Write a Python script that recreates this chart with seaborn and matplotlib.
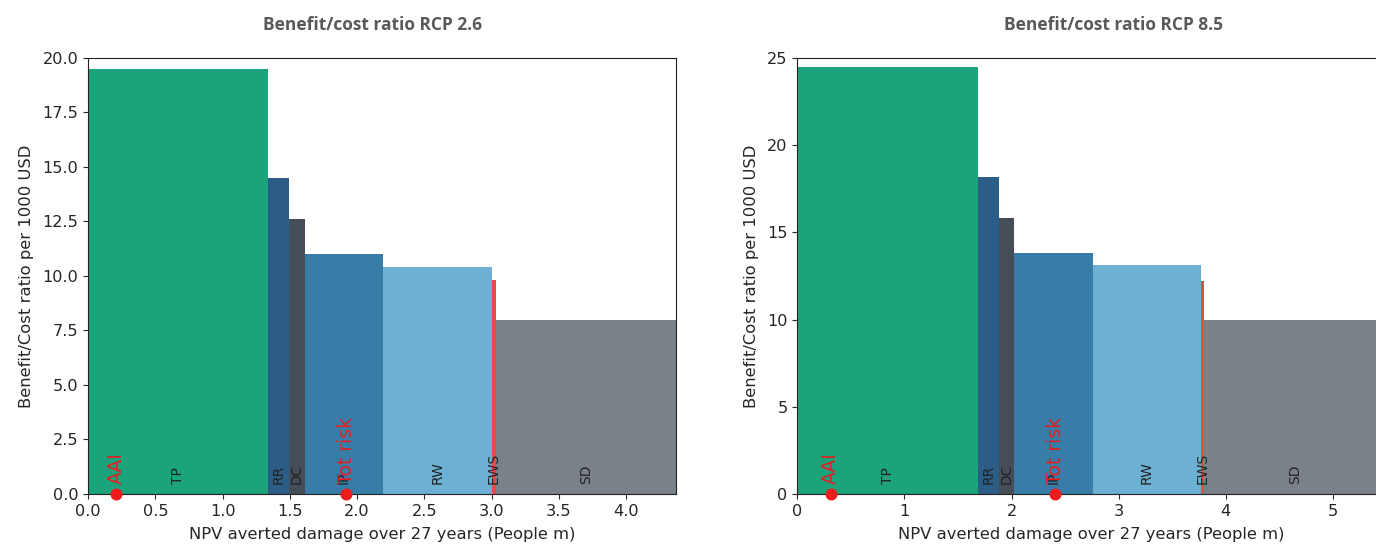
import numpy as np
import pandas as pd
import matplotlib.pyplot as plt
import seaborn as sns

sns.set_style("ticks")
plt.rcParams["font.family"] = "DejaVu Sans"
plt.rcParams["xtick.major.size"] = 3.5
plt.rcParams["ytick.major.size"] = 3.5
plt.rcParams["xtick.labelsize"] = 11.6
plt.rcParams["ytick.labelsize"] = 11.6

# measures in order of decreasing benefit/cost ratio
measures = ["TP", "RR", "DC", "IP", "RW", "EWS", "SD"]
colors = ["#1ba37c", "#2b5d87", "#454e58", "#377da8", "#6cb0d4", "#e64b4b", "#7b8189"]

# RCP 2.6: averted damage per measure (People m) and benefit/cost ratio
averted_26 = [1.34, 0.15, 0.12, 0.58, 0.81, 0.03, 1.34]
ratio_26 = [19.5, 14.5, 12.6, 11.0, 10.4, 9.8, 8.0]
aai_26 = 0.21
tot_risk_26 = 1.92

# RCP 8.5
averted_85 = [1.69, 0.19, 0.14, 0.74, 1.01, 0.03, 1.69]
ratio_85 = [24.5, 18.2, 15.8, 13.8, 13.1, 12.2, 10.0]
aai_85 = 0.31
tot_risk_85 = 2.41

palette = dict(zip(measures, colors))


def plot_ratio(ax, averted, ratio, aai, tot_risk, ymax):
    edges = [0.0] + list(np.cumsum(averted))
    df = pd.DataFrame({
        "measure": measures,
        "mid": [(a + b) / 2 for a, b in zip(edges[:-1], edges[1:])],
        "ratio": ratio,
    })
    # variable width bars: one bin per measure, height = ratio
    sns.histplot(data=df, x="mid", weights="ratio", hue="measure", bins=edges,
                 palette=palette, multiple="layer", alpha=1, linewidth=0,
                 legend=False, ax=ax)
    for name, x in zip(df["measure"], df["mid"]):
        ax.annotate(name, (x, 0), xytext=(0, 7), textcoords="offset points",
                    rotation=90, ha="center", va="bottom", fontsize=10, color="#222222")
    sns.scatterplot(x=[aai, tot_risk], y=[0, 0], color="#ee1c1c", s=75,
                    linewidth=0, clip_on=False, zorder=5, ax=ax)
    for name, x in [("AAI", aai), ("Tot risk", tot_risk)]:
        ax.annotate(name, (x, 0), xytext=(0, 7), textcoords="offset points",
                    rotation=90, ha="center", va="bottom", fontsize=13.5, color="#dd2222")
    ax.set_xlim(0, edges[-1])
    ax.set_ylim(0, ymax)
    ax.set_xlabel("NPV averted damage over 27 years (People m)", fontsize=11.8, labelpad=6)
    ax.set_ylabel("Benefit/Cost ratio per 1000 USD", fontsize=11.8, labelpad=6)
    for s in ax.spines.values():
        s.set_color("#222222")


fig = plt.figure(figsize=(13.76, 5.47), dpi=100)
ax1 = fig.add_axes([0.064, 0.097, 0.4273, 0.797])
ax2 = fig.add_axes([0.5795, 0.097, 0.4273, 0.797])

plot_ratio(ax1, averted_26, ratio_26, aai_26, tot_risk_26, 20)
plot_ratio(ax2, averted_85, ratio_85, aai_85, tot_risk_85, 25)

fig.text(0.2705, 0.955, "Benefit/cost ratio RCP 2.6", ha="center", va="center",
         fontsize=12.5, fontweight="bold", color="#595959", family="Open Sans")
fig.text(0.809, 0.955, "Benefit/cost ratio RCP 8.5", ha="center", va="center",
         fontsize=12.5, fontweight="bold", color="#595959", family="Open Sans")

fig.savefig("out.png", dpi=100)
